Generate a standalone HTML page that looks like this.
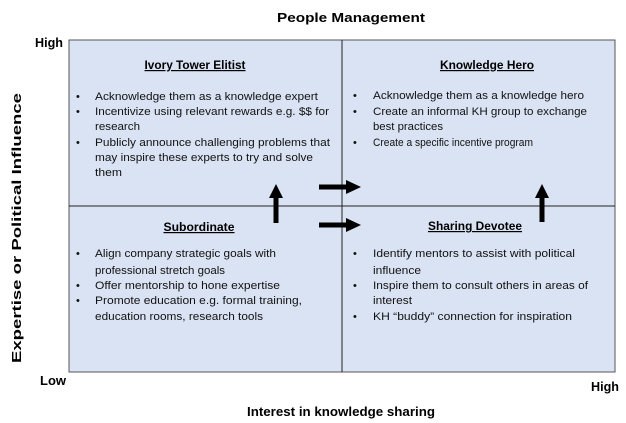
<!DOCTYPE html>
<html><head><meta charset="utf-8"><style>
html,body{margin:0;padding:0;background:#fff;}
svg{display:block;font-family:"Liberation Sans",sans-serif;}
.t{font-size:11px;fill:#111;}
.h{font-size:12px;font-weight:bold;fill:#000;text-decoration:underline;}
.b{font-size:12.5px;font-weight:bold;fill:#000;}
</style></head><body>
<svg width="626" height="423" viewBox="0 0 626 423">
<rect x="69" y="40" width="546" height="332" fill="#dae3f3" stroke="#555" stroke-width="1"/>
<line x1="342" y1="40" x2="342" y2="372" stroke="#222" stroke-width="1"/>
<line x1="69" y1="206" x2="615" y2="206" stroke="#222" stroke-width="1"/>

<text class="b" x="351" y="22" text-anchor="middle" textLength="148" lengthAdjust="spacingAndGlyphs">People Management</text>
<text class="b" x="35" y="47" textLength="28" lengthAdjust="spacingAndGlyphs">High</text>
<text class="b" x="40" y="385" textLength="26" lengthAdjust="spacingAndGlyphs">Low</text>
<text class="b" x="591" y="391" textLength="28" lengthAdjust="spacingAndGlyphs">High</text>
<text class="b" x="341" y="416" text-anchor="middle" textLength="188" lengthAdjust="spacingAndGlyphs">Interest in knowledge sharing</text>
<text class="b" transform="translate(21,228) rotate(-90)" text-anchor="middle" textLength="270" lengthAdjust="spacingAndGlyphs">Expertise or Political Influence</text>

<text class="h" x="195" y="69" text-anchor="middle" textLength="101" lengthAdjust="spacingAndGlyphs">Ivory Tower Elitist</text>
<text class="h" x="487" y="69" text-anchor="middle" textLength="94" lengthAdjust="spacingAndGlyphs">Knowledge Hero</text>
<text class="h" x="199" y="231" text-anchor="middle" textLength="71" lengthAdjust="spacingAndGlyphs">Subordinate</text>
<text class="h" x="475" y="230" text-anchor="middle" textLength="94" lengthAdjust="spacingAndGlyphs">Sharing Devotee</text>

<g class="t">
<text x="76" y="100">•</text><text x="95" y="100" textLength="223" lengthAdjust="spacingAndGlyphs">Acknowledge them as a knowledge expert</text>
<text x="76" y="115">•</text><text x="95" y="115" textLength="234" lengthAdjust="spacingAndGlyphs">Incentivize using relevant rewards e.g. $$ for</text>
<text x="95" y="130" textLength="45" lengthAdjust="spacingAndGlyphs">research</text>
<text x="76" y="146">•</text><text x="95" y="146" textLength="235" lengthAdjust="spacingAndGlyphs">Publicly announce challenging problems that</text>
<text x="95" y="161" textLength="218" lengthAdjust="spacingAndGlyphs">may inspire these experts to try and solve</text>
<text x="95" y="176" textLength="27" lengthAdjust="spacingAndGlyphs">them</text>

<text x="353" y="99">•</text><text x="373" y="99" textLength="211" lengthAdjust="spacingAndGlyphs">Acknowledge them as a knowledge hero</text>
<text x="353" y="115">•</text><text x="373" y="115" textLength="214" lengthAdjust="spacingAndGlyphs">Create an informal KH group to exchange</text>
<text x="373" y="130" textLength="70" lengthAdjust="spacingAndGlyphs">best practices</text>
<text x="353" y="146">•</text><text x="373" y="146" textLength="160" lengthAdjust="spacingAndGlyphs">Create a specific incentive program</text>

<text x="76" y="257">•</text><text x="95" y="257" textLength="181" lengthAdjust="spacingAndGlyphs">Align company strategic goals with</text>
<text x="95" y="274" textLength="130" lengthAdjust="spacingAndGlyphs">professional stretch goals</text>
<text x="76" y="289">•</text><text x="95" y="289" textLength="185" lengthAdjust="spacingAndGlyphs">Offer mentorship to hone expertise</text>
<text x="76" y="304">•</text><text x="95" y="304" textLength="207" lengthAdjust="spacingAndGlyphs">Promote education e.g. formal training,</text>
<text x="95" y="320" textLength="168" lengthAdjust="spacingAndGlyphs">education rooms, research tools</text>

<text x="353" y="257">•</text><text x="373" y="257" textLength="202" lengthAdjust="spacingAndGlyphs">Identify mentors to assist with political</text>
<text x="373" y="274" textLength="48" lengthAdjust="spacingAndGlyphs">influence</text>
<text x="353" y="289">•</text><text x="373" y="289" textLength="215" lengthAdjust="spacingAndGlyphs">Inspire them to consult others in areas of</text>
<text x="373" y="304" textLength="39" lengthAdjust="spacingAndGlyphs">interest</text>
<text x="353" y="320">•</text><text x="373" y="320" textLength="199" lengthAdjust="spacingAndGlyphs">KH “buddy” connection for inspiration</text>
</g>

<g fill="#000">
<rect x="319" y="184.5" width="28" height="5"/><polygon points="346,180 361,187 346,194"/>
<rect x="319" y="222.5" width="28" height="5"/><polygon points="346,218 361,225 346,232"/>
<rect x="273.5" y="197" width="5" height="26"/><polygon points="269,198 276,184 283,198"/>
<rect x="539.5" y="197" width="5" height="25"/><polygon points="535,198 542,184 549,198"/>
</g>
</svg>
</body></html>
